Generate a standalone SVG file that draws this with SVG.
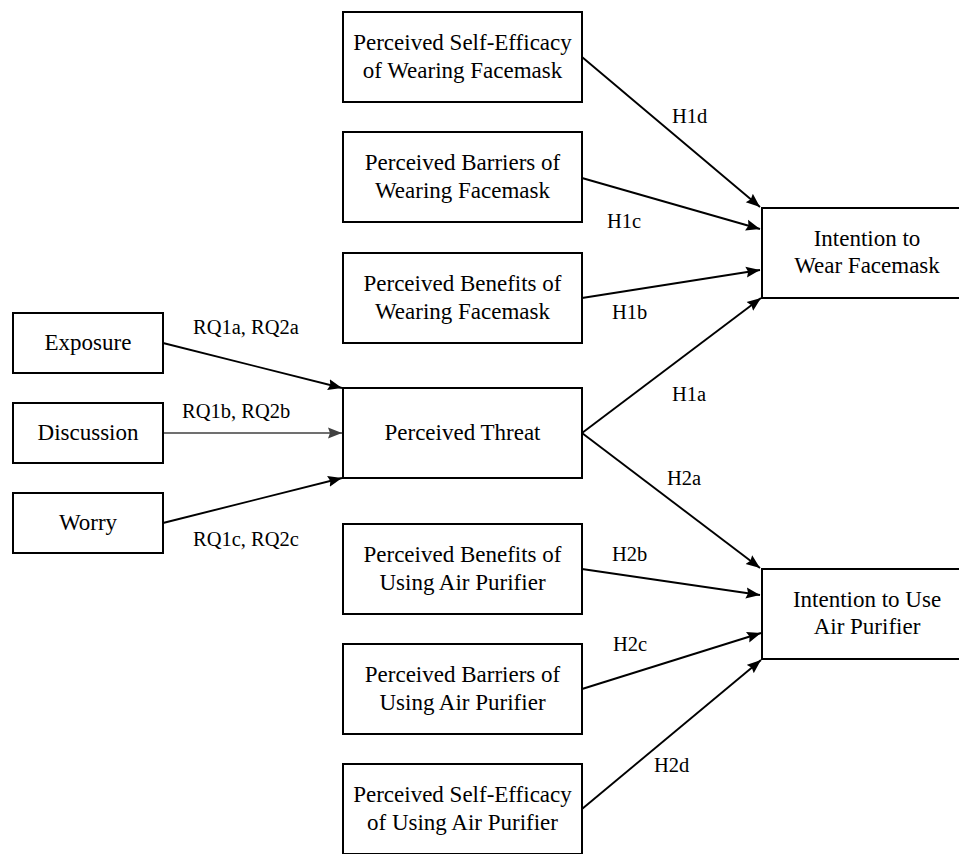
<svg xmlns="http://www.w3.org/2000/svg" width="959" height="854" viewBox="0 0 959 854">
<style>
.box{fill:#fff;stroke:#000;stroke-width:2}
text{font-family:'Liberation Serif','Times New Roman',serif;fill:#000}
.nt{font-size:23px;text-anchor:middle}
.lb{font-size:20.5px}
.ar{stroke:#000;stroke-width:1.9;fill:none;marker-end:url(#ah)}
.ag{stroke:#404040;stroke-width:1.7;fill:none;marker-end:url(#ahg)}
</style>
<defs>
<marker id="ah" markerUnits="userSpaceOnUse" markerWidth="15" markerHeight="12" refX="14" refY="6" orient="auto">
<path d="M0,0.5 L14,6 L0,11.5 L2,6 z" fill="#000"/>
</marker>
<marker id="ahg" markerUnits="userSpaceOnUse" markerWidth="15" markerHeight="12" refX="14" refY="6" orient="auto">
<path d="M0,0.5 L14,6 L0,11.5 L2,6 z" fill="#404040"/>
</marker>
</defs>
<rect width="959" height="854" fill="#fff"/>
<g id="connectors">
<line class="ar" x1="163" y1="343" x2="342" y2="388"/>
<line class="ag" x1="163" y1="433" x2="342" y2="433"/>
<line class="ar" x1="163" y1="523" x2="342" y2="478"/>
<line class="ar" x1="582" y1="57" x2="760" y2="207"/>
<line class="ar" x1="582" y1="178" x2="760" y2="229"/>
<line class="ar" x1="582" y1="298" x2="760" y2="270"/>
<line class="ar" x1="582" y1="433" x2="761" y2="298"/>
<line class="ar" x1="582" y1="433" x2="760" y2="568"/>
<line class="ar" x1="582" y1="569" x2="760" y2="595"/>
<line class="ar" x1="582" y1="689" x2="761" y2="633"/>
<line class="ar" x1="582" y1="809" x2="761" y2="660"/>
</g>
<g id="labels">
<text class="lb" x="193" y="334">RQ1a, RQ2a</text>
<text class="lb" x="182" y="418">RQ1b, RQ2b</text>
<text class="lb" x="193" y="546">RQ1c, RQ2c</text>
<text class="lb" x="672" y="123">H1d</text>
<text class="lb" x="607" y="228">H1c</text>
<text class="lb" x="612" y="319">H1b</text>
<text class="lb" x="672" y="401">H1a</text>
<text class="lb" x="667" y="485">H2a</text>
<text class="lb" x="612" y="561">H2b</text>
<text class="lb" x="613" y="651">H2c</text>
<text class="lb" x="654" y="772">H2d</text>
</g>
<g id="exposure"><rect class="box" x="13" y="313" width="150" height="60"/><text class="nt" x="88" y="350">Exposure</text></g>
<g id="discussion"><rect class="box" x="13" y="403" width="150" height="60"/><text class="nt" x="88" y="440">Discussion</text></g>
<g id="worry"><rect class="box" x="13" y="493" width="150" height="60"/><text class="nt" x="88" y="530">Worry</text></g>
<g id="se-wear"><rect class="box" x="343" y="12" width="239" height="90"/><text class="nt" x="462.5" y="50">Perceived Self-Efficacy</text><text class="nt" x="462.5" y="78">of Wearing Facemask</text></g>
<g id="bar-wear"><rect class="box" x="343" y="132" width="239" height="90"/><text class="nt" x="462.5" y="170">Perceived Barriers of</text><text class="nt" x="462.5" y="198">Wearing Facemask</text></g>
<g id="ben-wear"><rect class="box" x="343" y="253" width="239" height="90"/><text class="nt" x="462.5" y="291">Perceived Benefits of</text><text class="nt" x="462.5" y="319">Wearing Facemask</text></g>
<g id="threat"><rect class="box" x="343" y="388" width="239" height="90"/><text class="nt" x="462.5" y="440">Perceived Threat</text></g>
<g id="ben-air"><rect class="box" x="343" y="524" width="239" height="90"/><text class="nt" x="462.5" y="562">Perceived Benefits of</text><text class="nt" x="462.5" y="590">Using Air Purifier</text></g>
<g id="bar-air"><rect class="box" x="343" y="644" width="239" height="90"/><text class="nt" x="462.5" y="682">Perceived Barriers of</text><text class="nt" x="462.5" y="710">Using Air Purifier</text></g>
<g id="se-air"><rect class="box" x="343" y="764" width="239" height="90"/><text class="nt" x="462.5" y="802">Perceived Self-Efficacy</text><text class="nt" x="462.5" y="830">of Using Air Purifier</text></g>
<g id="int-wear"><rect class="box" x="762" y="208" width="210" height="90"/><text class="nt" x="867" y="246">Intention to</text><text class="nt" x="867" y="273">Wear Facemask</text></g>
<g id="int-use"><rect class="box" x="762" y="569" width="210" height="90"/><text class="nt" x="867" y="607">Intention to Use</text><text class="nt" x="867" y="634">Air Purifier</text></g>
</svg>
